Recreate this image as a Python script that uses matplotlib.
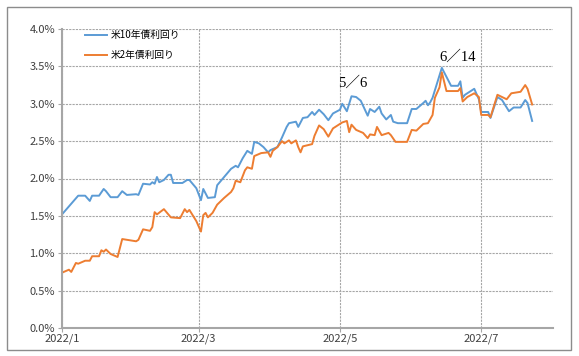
import matplotlib
matplotlib.use("Agg")
import matplotlib.pyplot as plt
import matplotlib.patches as patches
import pandas as pd

# ---------------------------
# Data
# ---------------------------
dates_10y = ["2022-01-01", "2022-01-08", "2022-01-11", "2022-01-13", "2022-01-14", "2022-01-17",
             "2022-01-19", "2022-01-20", "2022-01-22", "2022-01-25", "2022-01-27", "2022-01-29",
             "2022-02-02", "2022-02-03", "2022-02-05", "2022-02-08", "2022-02-09", "2022-02-10",
             "2022-02-11", "2022-02-12", "2022-02-14", "2022-02-16", "2022-02-17", "2022-02-18",
             "2022-02-22", "2022-02-24", "2022-02-25", "2022-02-28", "2022-03-02", "2022-03-03",
             "2022-03-05", "2022-03-08", "2022-03-09", "2022-03-12", "2022-03-15", "2022-03-17",
             "2022-03-18", "2022-03-20", "2022-03-22", "2022-03-24", "2022-03-25", "2022-03-27",
             "2022-03-29", "2022-03-31", "2022-04-01", "2022-04-04", "2022-04-06", "2022-04-08",
             "2022-04-09", "2022-04-12", "2022-04-13", "2022-04-15", "2022-04-17", "2022-04-19",
             "2022-04-20", "2022-04-22", "2022-04-24", "2022-04-26", "2022-04-28", "2022-05-01",
             "2022-05-02", "2022-05-04", "2022-05-06", "2022-05-08", "2022-05-10", "2022-05-13",
             "2022-05-14", "2022-05-16", "2022-05-18", "2022-05-19", "2022-05-21", "2022-05-23",
             "2022-05-24", "2022-05-26", "2022-05-30", "2022-06-01", "2022-06-03", "2022-06-06",
             "2022-06-07", "2022-06-08", "2022-06-09", "2022-06-10", "2022-06-11", "2022-06-12",
             "2022-06-14", "2022-06-16", "2022-06-18", "2022-06-21", "2022-06-22", "2022-06-23",
             "2022-06-24", "2022-06-28", "2022-06-30", "2022-07-01", "2022-07-04", "2022-07-05",
             "2022-07-08", "2022-07-10", "2022-07-13", "2022-07-15", "2022-07-18", "2022-07-20",
             "2022-07-21", "2022-07-23"]
yield_10y = [1.52, 1.77, 1.77, 1.70, 1.77, 1.77,
             1.86, 1.83, 1.75, 1.75, 1.83, 1.78,
             1.79, 1.78, 1.93, 1.92, 1.95, 1.93,
             2.02, 1.95, 1.98, 2.05, 2.05, 1.94,
             1.94, 1.98, 1.98, 1.87, 1.71, 1.86,
             1.74, 1.75, 1.91, 2.02, 2.13, 2.17,
             2.15, 2.27, 2.37, 2.33, 2.49, 2.47,
             2.42, 2.35, 2.38, 2.42, 2.55, 2.69,
             2.74, 2.76, 2.69, 2.81, 2.82, 2.89,
             2.85, 2.92, 2.86, 2.78, 2.87, 2.92,
             3.00, 2.90, 3.10, 3.09, 3.04, 2.84,
             2.93, 2.89, 2.96, 2.87, 2.79, 2.85,
             2.76, 2.74, 2.74, 2.93, 2.93, 3.01,
             3.04, 2.98, 3.02, 3.08, 3.18, 3.28,
             3.48, 3.36, 3.24, 3.24, 3.30, 3.08,
             3.12, 3.20, 3.06, 2.89, 2.89, 2.81,
             3.09, 3.05, 2.90, 2.95, 2.95, 3.05,
             3.01, 2.77]

dates_2y = ["2022-01-01", "2022-01-04", "2022-01-05", "2022-01-07", "2022-01-08", "2022-01-11",
            "2022-01-13", "2022-01-14", "2022-01-17", "2022-01-18", "2022-01-19", "2022-01-20",
            "2022-01-22", "2022-01-25", "2022-01-27", "2022-02-02", "2022-02-03", "2022-02-05",
            "2022-02-08", "2022-02-09", "2022-02-10", "2022-02-11", "2022-02-14", "2022-02-17",
            "2022-02-21", "2022-02-23", "2022-02-24", "2022-02-25", "2022-02-28", "2022-03-02",
            "2022-03-03", "2022-03-04", "2022-03-05", "2022-03-07", "2022-03-09", "2022-03-12",
            "2022-03-15", "2022-03-16", "2022-03-17", "2022-03-19", "2022-03-21", "2022-03-22",
            "2022-03-24", "2022-03-25", "2022-03-28", "2022-03-31", "2022-04-01", "2022-04-02",
            "2022-04-04", "2022-04-06", "2022-04-07", "2022-04-09", "2022-04-10", "2022-04-12",
            "2022-04-13", "2022-04-14", "2022-04-15", "2022-04-19", "2022-04-20", "2022-04-22",
            "2022-04-24", "2022-04-26", "2022-04-28", "2022-04-30", "2022-05-02", "2022-05-04",
            "2022-05-05", "2022-05-06", "2022-05-08", "2022-05-11", "2022-05-13", "2022-05-14",
            "2022-05-16", "2022-05-17", "2022-05-19", "2022-05-22", "2022-05-23", "2022-05-25",
            "2022-05-30", "2022-06-01", "2022-06-03", "2022-06-06", "2022-06-08", "2022-06-10",
            "2022-06-11", "2022-06-13", "2022-06-14", "2022-06-16", "2022-06-21", "2022-06-22",
            "2022-06-23", "2022-06-25", "2022-06-28", "2022-06-30", "2022-07-01", "2022-07-04",
            "2022-07-05", "2022-07-08", "2022-07-12", "2022-07-14", "2022-07-18", "2022-07-20",
            "2022-07-21", "2022-07-23"]
yield_2y = [0.74, 0.78, 0.75, 0.87, 0.86, 0.90,
            0.90, 0.96, 0.96, 1.04, 1.02, 1.05,
            0.99, 0.95, 1.19, 1.16, 1.18, 1.32,
            1.30, 1.35, 1.55, 1.52, 1.59, 1.48,
            1.47, 1.59, 1.55, 1.58, 1.43, 1.29,
            1.51, 1.54, 1.48, 1.54, 1.65, 1.74,
            1.82, 1.87, 1.97, 1.95, 2.11, 2.15,
            2.13, 2.30, 2.34, 2.35, 2.29, 2.37,
            2.42, 2.50, 2.47, 2.51, 2.47, 2.51,
            2.42, 2.35, 2.43, 2.46, 2.57, 2.71,
            2.66, 2.56, 2.67, 2.71, 2.75, 2.77,
            2.62, 2.72, 2.65, 2.61, 2.54, 2.59,
            2.58, 2.69, 2.58, 2.61, 2.58, 2.49,
            2.49, 2.65, 2.64, 2.73, 2.74, 2.85,
            3.08, 3.22, 3.42, 3.17, 3.17, 3.21,
            3.03, 3.09, 3.14, 3.09, 2.85, 2.85,
            2.82, 3.12, 3.06, 3.14, 3.16, 3.25,
            3.20, 2.99]

label_10y = "米10年債利回り"
label_2y = "米2年債利回り"
tick_dates = ["2022-01-01", "2022-03-01", "2022-05-01", "2022-07-01"]
tick_labels = ["2022/1", "2022/3", "2022/5", "2022/7"]
notes = [("2022-04-30", 3.28, "5／6"), ("2022-06-13", 3.63, "6／14")]

# ---------------------------
# Plot
# ---------------------------
plt.rcParams["font.family"] = ["Noto Sans CJK JP", "DejaVu Sans"]

W, H = 579, 356
fig = plt.figure(figsize=(W / 100, H / 100), dpi=100)
fig.patch.set_facecolor("white")

# outer chart frame
fig.patches.append(patches.Rectangle((7 / W, 6 / H), 564 / W, 343 / H, transform=fig.transFigure,
                                     fill=False, edgecolor="#8c8c8c", linewidth=1.0))

ax = fig.add_axes([62 / W, (H - 328) / H, (553 - 62) / W, (328 - 29) / H])

ax.plot(pd.to_datetime(dates_10y), yield_10y, color="#5B9BD5", linewidth=1.4, label=label_10y)
ax.plot(pd.to_datetime(dates_2y), yield_2y, color="#ED7D31", linewidth=1.4, label=label_2y)

ax.set_xlim(pd.Timestamp("2022-01-01"), pd.Timestamp("2022-08-01"))
ax.set_ylim(0, 4.0)

ax.set_yticks([i * 0.5 for i in range(9)])
ax.yaxis.set_major_formatter(plt.FuncFormatter(lambda v, p: f"{v:.1f}%"))
ax.set_xticks(pd.to_datetime(tick_dates))
ax.set_xticklabels(tick_labels)

ax.grid(True, color="#a6a6a6", linestyle=(0, (2, 1)), linewidth=0.8)
ax.set_axisbelow(True)

for s in ["top", "right"]:
    ax.spines[s].set_visible(False)
for s in ["left", "bottom"]:
    ax.spines[s].set_color("#a6a6a6")
    ax.spines[s].set_linewidth(1.5)

ax.tick_params(axis="both", colors="#a6a6a6", labelcolor="#404040", labelsize=8, length=3)
ax.tick_params(axis="x", pad=1)
ax.tick_params(axis="y", pad=2)

for d, v, t in notes:
    ax.text(pd.Timestamp(d), v, t, fontsize=10.5, va="center", ha="left",
            family=["Liberation Serif", "Noto Sans CJK JP"], color="black")

leg = ax.legend(loc="upper left", bbox_to_anchor=(0.03, 1.025), frameon=False, fontsize=7,
                handlelength=2.2, labelspacing=1.0, handletextpad=0.4)

fig.savefig("out.png", dpi=100)
